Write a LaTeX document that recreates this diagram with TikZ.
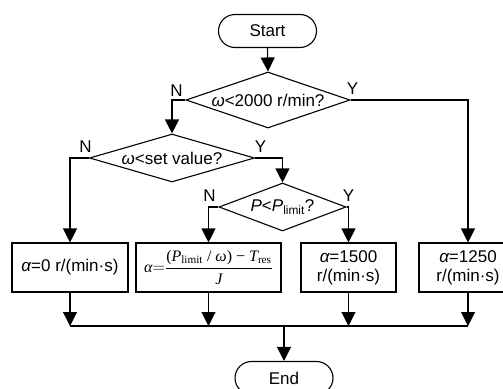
\documentclass[tikz,border=0pt]{standalone}
\usepackage{fontspec}
\setmainfont{Liberation Sans}
\newfontfamily\tms{Liberation Serif}
\usetikzlibrary{shapes.geometric,shapes.misc,arrows.meta}
\begin{document}
\begin{tikzpicture}[x=1pt,y=-1pt,
  every node/.style={font=\fontsize{17}{19}\selectfont},
  line/.style={line width=1.1pt},
  arr/.style={line width=1.1pt,-{Triangle[length=14pt,width=14pt]}},
  term/.style={rounded rectangle, draw, line width=1.1pt, minimum width=98pt, minimum height=33pt, inner sep=0pt},
  dia/.style={diamond, draw, line width=1.1pt, inner sep=0pt},
  box/.style={rectangle, draw, line width=1.1pt, minimum height=49pt, inner sep=0pt, align=center},
  yn/.style={inner sep=0pt, anchor=south}
]
\clip (0,0) rectangle (503,388);
% terminals
\node[term] (start) at (267.5,31) {Start};
\node[term] (end) at (284,378) {End};
% decisions
\node[dia, minimum width=164pt, minimum height=56pt] (d1) at (268,100) {};
\node (d1t) at (d1) {{\itshape ω}<2000 r/min?};
\node[dia, minimum width=165pt, minimum height=48pt] (d2) at (172,158) {};
\node (d2t) at (d2) {{\itshape ω}<set value?};
\node[dia, minimum width=127pt, minimum height=48pt] (d3) at (282.5,207) {};
\node (d3t) at (d3) {{\itshape P}<{\itshape P}\textsubscript{limit}?};
% boxes
\node[box, minimum width=116pt] (b1) at (70,267.5) {{\itshape α}=0 r/(min·s)};
\node[box, minimum width=145pt] (b2) at (208.5,267.5) {\fontsize{16}{19}\selectfont\tms
  $\displaystyle\mbox{\itshape α}{=}\frac{\mbox{\rule[-5pt]{0pt}{5pt}({\itshape P}\textsubscript{limit} / {\itshape ω}) − {\itshape T}\textsubscript{res}}}{\mbox{\rule{0pt}{13pt}\itshape J}}$};
\node[box, minimum width=95pt] (b3) at (348.5,267.5) {{\itshape α}=1500\\r/(min·s)};
\node[box, minimum width=98pt] (b4) at (468,267.5) {{\itshape α}=1250\\r/(min·s)};
% Y/N labels
\node[yn] (n1) at ([shift={(-9,-3)}]d1.west) {N};
\node[yn] (y1) at ([shift={(2,-5)}]d1.east) {Y};
\node[yn] (n2) at ([shift={(-3.5,-5)}]d2.west) {N};
\node[yn] (y2) at ([shift={(5.5,-5)}]d2.east) {Y};
\node[yn] (n3) at ([shift={(-9,-5)}]d3.west) {N};
\node[yn] (y3) at ([shift={(2,-5)}]d3.east) {Y};
% connectors
\draw[arr] (start.south) -- (d1.north);
\draw[arr] (d1.west) -| (d2.north);
\draw[arr] (d1.east) -| (b4.north);
\draw[arr] (d2.west) -| (b1.north);
\draw[arr] (d2.east) -| (d3.north);
\draw[arr] (d3.west) -| (b2.north);
\draw[arr] (d3.east) -| (b3.north);
\coordinate (bus) at (284,326);
\draw[arr] (b1.south) -- (b1.south |- bus);
\draw[arr] (b2.south) -- (b2.south |- bus);
\draw[arr] (b3.south) -- (b3.south |- bus);
\draw[arr] (b4.south) -- (b4.south |- bus);
\draw[line] (b1.south |- bus) -- (b4.south |- bus);
\draw[arr] (bus) -- (end.north);
\end{tikzpicture}
\end{document}
